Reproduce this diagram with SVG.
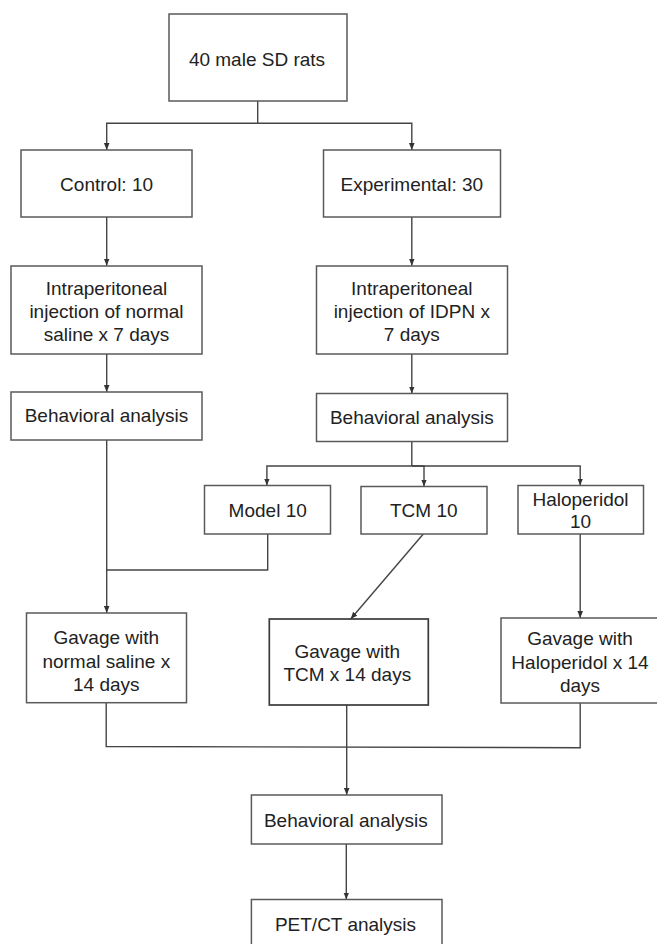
<svg xmlns="http://www.w3.org/2000/svg" width="657" height="944" viewBox="0 0 657 944">
<style>
  .box { fill: #ffffff; stroke: #5a5a5a; stroke-width: 1.5; }
  .dark { stroke: #3a3a3a; stroke-width: 1.7; }
  .lbl { font-family: "Liberation Sans", Arial, sans-serif; font-size: 19px; fill: #222222; text-anchor: middle; }
  .con { fill: none; stroke: #444444; stroke-width: 1.4; }
  .arr { marker-end: url(#ah); }
</style>
<defs>
  <marker id="ah" viewBox="0 0 10 10" refX="10" refY="5" markerWidth="7" markerHeight="7" orient="auto" markerUnits="userSpaceOnUse">
    <path d="M0,1 L10,5 L0,9 z" fill="#333333"/>
  </marker>
</defs>
<rect x="0" y="0" width="657" height="944" fill="#ffffff"/>

<g id="connectors">
  <path class="con" d="M257.7 101 V123.3"/>
  <path class="con arr" d="M257.7 123.3 H106.7 V150"/>
  <path class="con arr" d="M257.7 123.3 H411.8 V150"/>
  <path class="con arr" d="M106.7 217 V265.7"/>
  <path class="con arr" d="M411.8 217 V265.7"/>
  <path class="con arr" d="M106.7 354 V392"/>
  <path class="con arr" d="M411.8 354 V393.5"/>
  <path class="con" d="M411.8 441.5 V466"/>
  <path class="con arr" d="M411.8 466 H266.9 V485.5"/>
  <path class="con arr" d="M411.8 466 H424 V486.5"/>
  <path class="con arr" d="M411.8 466 H580.2 V485.5"/>
  <path class="con arr" d="M106.7 440 V613"/>
  <path class="con" d="M267.7 534 V570 H106.7"/>
  <path class="con arr" d="M423.3 534 L350.7 619"/>
  <path class="con arr" d="M580.2 534 V618"/>
  <path class="con" d="M106.2 702.7 V746.5 L580.2 747.7 V703"/>
  <path class="con arr" d="M346.7 705 V795"/>
  <path class="con arr" d="M346.3 844 V899.5"/>
</g>

<g id="n-start">
  <rect class="box" x="169" y="14" width="178" height="87"/>
  <text class="lbl" x="257" y="66">40 male SD rats</text>
</g>
<g id="n-control">
  <rect class="box" x="21" y="150" width="171" height="67"/>
  <text class="lbl" x="106.6" y="191">Control:  10</text>
</g>
<g id="n-experimental">
  <rect class="box" x="323.5" y="150" width="177" height="67"/>
  <text class="lbl" x="411.8" y="191">Experimental:  30</text>
</g>
<g id="n-ip-saline">
  <rect class="box" x="11" y="266" width="191" height="88"/>
  <text class="lbl" x="106.5" y="294.5">Intraperitoneal</text>
  <text class="lbl" x="106.5" y="317.5">injection of normal</text>
  <text class="lbl" x="106.5" y="340.5">saline x 7 days</text>
</g>
<g id="n-ip-idpn">
  <rect class="box" x="316.5" y="266" width="191" height="88"/>
  <text class="lbl" x="411.8" y="294.5">Intraperitoneal</text>
  <text class="lbl" x="411.8" y="317.5">injection of IDPN x</text>
  <text class="lbl" x="411.8" y="340.5">7 days</text>
</g>
<g id="n-beh-control">
  <rect class="box" x="11" y="392" width="191" height="48"/>
  <text class="lbl" x="106.5" y="422">Behavioral analysis</text>
</g>
<g id="n-beh-exp">
  <rect class="box" x="316.5" y="393.5" width="191" height="48"/>
  <text class="lbl" x="411.8" y="424">Behavioral analysis</text>
</g>
<g id="n-model">
  <rect class="box" x="204.5" y="485.5" width="126" height="48.5"/>
  <text class="lbl" x="267.7" y="517">Model  10</text>
</g>
<g id="n-tcm">
  <rect class="box" x="361" y="486.5" width="126" height="47.5"/>
  <text class="lbl" x="423.8" y="517">TCM  10</text>
</g>
<g id="n-haloperidol">
  <rect class="box" x="518" y="485.5" width="125.5" height="48.5"/>
  <text class="lbl" x="580.5" y="505.5">Haloperidol</text>
  <text class="lbl" x="580.5" y="528">10</text>
</g>
<g id="n-gav-saline">
  <rect class="box" x="26.5" y="613" width="160" height="89.7"/>
  <text class="lbl" x="106.3" y="644">Gavage with</text>
  <text class="lbl" x="106.3" y="667.5">normal  saline x</text>
  <text class="lbl" x="106.3" y="691">14 days</text>
</g>
<g id="n-gav-tcm">
  <rect class="box dark" x="269.3" y="619" width="159" height="86"/>
  <text class="lbl" x="347.3" y="657.5">Gavage with</text>
  <text class="lbl" x="347.3" y="681">TCM  x 14 days</text>
</g>
<g id="n-gav-haloperidol">
  <rect class="box" x="501" y="618" width="160" height="85"/>
  <text class="lbl" x="580" y="645">Gavage with</text>
  <text class="lbl" x="580" y="668.5">Haloperidol  x 14</text>
  <text class="lbl" x="580" y="692">days</text>
</g>
<g id="n-beh-final">
  <rect class="box" x="251.4" y="795" width="190.6" height="49"/>
  <text class="lbl" x="345.8" y="827">Behavioral analysis</text>
</g>
<g id="n-petct">
  <rect class="box" x="251.4" y="899.5" width="190.6" height="60"/>
  <text class="lbl" x="345.5" y="931">PET/CT  analysis</text>
</g>
</svg>
